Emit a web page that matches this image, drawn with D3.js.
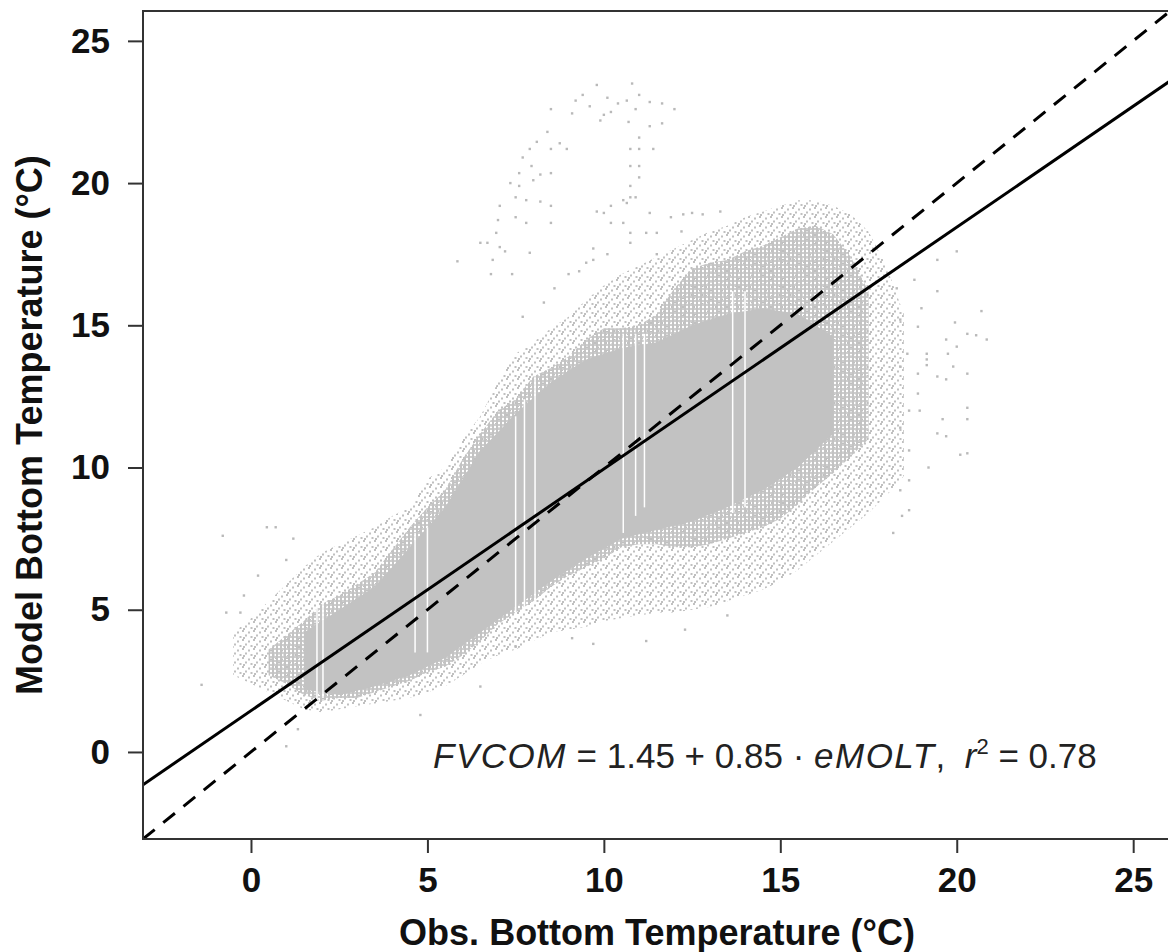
<!DOCTYPE html>
<html lang="en">

<head>
  <meta charset="utf-8">
  <title>Model vs. observed bottom temperature</title>
  <script src="https://cdnjs.cloudflare.com/ajax/libs/d3/7.8.5/d3.min.js"></script>
  <style type="text/css">
    body { margin: 0; background: #fff; }
    svg { display: block; font-family: "Liberation Sans", Arial, sans-serif; }
    .frame { fill: none; stroke: #333; stroke-width: 2; }
    .axis text { font-size: 35px; font-weight: bold; fill: #111; }
    .axis line { stroke: #333; stroke-width: 2; }
    .title { font-size: 36px; font-weight: bold; fill: #111; }
    .fit { fill: none; stroke: #000; stroke-width: 3; }
    .oneone { fill: none; stroke: #000; stroke-width: 3; stroke-dasharray: 15 11; }
    .eq { font-size: 35px; fill: #222; }
  </style>
</head>

<body>
  <script>
    var w = 1168;
    var h = 952;
    var pad = { l: 143, r: 1172, t: 11, b: 839 };

    var xTicks = [0, 5, 10, 15, 20, 25];
    var yTicks = [0, 5, 10, 15, 20, 25];

    // regression shown on the chart
    var fitIntercept = 1.45;
    var fitSlope = 0.85;
    var rSquared = 0.78;

    // outer extent of the scattered points: [obs, model low, model high]
    var sparseBand = [
      [-0.5, 2.7, 4.2], [0.0, 2.4, 4.7], [0.5, 2.1, 5.3], [1.0, 1.8, 5.9],
      [1.5, 1.5, 6.5], [2.0, 1.4, 7.0], [2.5, 1.5, 7.3], [3.0, 1.6, 7.6],
      [3.5, 1.7, 7.9], [4.0, 1.8, 8.3], [4.5, 1.9, 8.6], [5.0, 2.1, 9.6],
      [5.5, 2.3, 10.0], [6.0, 2.7, 11.0], [6.5, 3.1, 11.8], [7.0, 3.4, 13.0],
      [7.5, 3.6, 14.0], [8.0, 3.9, 14.4], [8.5, 4.2, 14.9], [9.0, 4.3, 15.3],
      [9.5, 4.4, 15.9], [10.0, 4.6, 16.4], [10.5, 4.7, 16.8], [11.0, 4.8, 17.1],
      [11.5, 4.9, 17.4], [12.0, 4.9, 17.7], [12.5, 5.0, 18.0], [13.0, 5.1, 18.3],
      [13.5, 5.3, 18.5], [14.0, 5.5, 18.8], [14.5, 5.7, 19.0], [15.0, 6.0, 19.2],
      [15.5, 6.4, 19.4], [16.0, 6.9, 19.4], [16.5, 7.4, 19.2], [17.0, 7.9, 18.9],
      [17.5, 8.4, 18.3], [18.0, 9.0, 17.1], [18.5, 9.7, 15.4]
    ];

    // densely packed columns
    var denseBand = [
      [0.5, 2.7, 3.6], [1.0, 2.4, 4.1], [1.5, 2.0, 4.6], [2.0, 1.8, 5.2],
      [2.5, 1.9, 5.5], [3.0, 1.9, 5.9], [3.5, 2.1, 6.3], [4.0, 2.3, 7.1],
      [4.5, 2.5, 7.9], [5.0, 2.8, 8.6], [5.5, 3.0, 9.2], [6.0, 3.4, 10.3],
      [6.5, 3.9, 11.2], [7.0, 4.5, 12.0], [7.5, 4.9, 12.4], [8.0, 5.3, 13.2],
      [8.5, 5.8, 13.5], [9.0, 6.2, 13.9], [9.5, 6.5, 14.5], [10.0, 6.8, 14.9],
      [10.5, 7.2, 14.9], [11.0, 7.3, 15.0], [11.5, 7.3, 15.4], [12.0, 7.2, 16.3],
      [12.5, 7.2, 17.0], [13.0, 7.3, 17.2], [13.5, 7.5, 17.3], [14.0, 7.7, 17.6],
      [14.5, 7.9, 17.8], [15.0, 8.2, 18.1], [15.5, 8.7, 18.4], [16.0, 9.3, 18.5],
      [16.5, 9.8, 18.2], [17.0, 10.4, 17.4], [17.5, 11.0, 16.2]
    ];

    // solid core around the fit
    var coreBand = [
      [1.5, 2.2, 4.2], [2.5, 2.0, 5.0], [3.5, 2.3, 5.8], [4.5, 2.7, 7.2],
      [5.5, 3.3, 8.6], [6.5, 4.2, 10.6], [7.5, 5.1, 11.9], [8.5, 6.0, 13.0],
      [9.5, 6.8, 13.8], [10.5, 7.5, 14.2], [11.5, 7.8, 14.4], [12.5, 8.1, 15.0],
      [13.5, 8.6, 15.4], [14.5, 9.2, 15.6], [15.5, 10.0, 15.4], [16.5, 11.2, 14.6]
    ];

    // empty vertical stripes in the cloud: [obs, model low, model high]
    var gapStripes = [
      [1.87, 1.8, 5.2], [2.04, 1.9, 5.2], [4.65, 3.5, 7.7], [5.0, 3.5, 7.9],
      [7.5, 4.75, 11.8], [7.75, 5.1, 12.4], [8.05, 5.2, 13.2],
      [10.55, 7.7, 14.7], [10.9, 8.3, 14.7], [11.15, 8.6, 14.7],
      [13.65, 8.4, 16.2], [14.0, 8.6, 16.2]
    ];

    // isolated points: [obs, model]
    var outliers = [
      [9.8, 23.45], [10.8, 23.5], [9.2, 22.9], [9.6, 22.7], [10.1, 23.0], [10.4, 22.8],
      [10.65, 22.9], [10.9, 22.6], [11.3, 22.85], [11.65, 22.8], [12.0, 22.6], [9.9, 22.2],
      [10.7, 22.15], [9.1, 22.45], [8.5, 22.6], [11.65, 22.1], [10.2, 22.5], [9.4, 23.1],
      [10.0, 22.4], [11.0, 23.1],
      [8.4, 21.8], [8.1, 21.45], [7.9, 21.2], [7.7, 20.9], [8.5, 21.2], [8.75, 21.4],
      [8.95, 21.2], [7.95, 20.6], [7.6, 20.35], [8.2, 20.3], [8.5, 20.35], [7.35, 20.0],
      [7.6, 19.9], [8.0, 20.1], [7.5, 19.5], [7.8, 19.4], [8.2, 19.35], [8.5, 19.2],
      [7.05, 19.2], [7.5, 18.8], [7.0, 18.7], [7.8, 18.6], [8.5, 18.6], [6.95, 18.25],
      [6.7, 17.9], [6.5, 17.9], [7.05, 17.75], [7.2, 17.6], [6.85, 17.3], [5.85, 17.25],
      [6.8, 16.8], [7.4, 16.8], [7.9, 17.55],
      [11.0, 21.6], [11.0, 21.2], [10.75, 21.2], [11.3, 22.0], [11.4, 21.2], [11.0, 20.6],
      [10.75, 20.6], [11.0, 20.2], [10.75, 19.9], [10.75, 19.5], [10.55, 19.4], [10.9, 19.5],
      [10.65, 19.3], [10.2, 19.2], [9.8, 19.0], [10.0, 18.95], [10.2, 18.6], [10.55, 18.6],
      [10.75, 18.25], [11.3, 18.95], [11.2, 18.25], [11.5, 18.25], [11.9, 18.8], [12.25, 18.9],
      [12.5, 18.95], [10.75, 17.9], [9.7, 17.7], [10.1, 17.5], [11.5, 17.5], [9.7, 17.3],
      [9.5, 17.2], [9.0, 16.8], [8.6, 16.3], [9.3, 16.9], [12.8, 18.9], [13.3, 19.0],
      [12.2, 18.3], [8.3, 15.8], [7.7, 15.3],
      [-0.8, 7.6], [0.45, 7.9], [0.7, 7.9], [1.2, 7.5], [1.0, 6.75], [-1.4, 2.36],
      [1.0, 0.2], [-0.7, 4.9], [-0.3, 4.9], [4.8, 1.3], [1.33, 0.8], [0.2, 6.2], [-0.2, 5.5],
      [9.1, 4.0], [9.7, 3.8], [7.5, 3.7], [6.5, 2.3], [12.3, 4.3], [11.2, 3.9], [13.5, 4.8],
      [19.45, 17.3], [20.0, 17.6], [19.45, 16.2], [20.7, 15.5], [20.85, 14.5], [20.55, 14.65],
      [20.3, 14.7], [19.95, 15.1], [19.7, 14.5], [20.0, 14.25], [19.15, 13.8], [19.15, 13.6],
      [19.15, 14.0], [19.75, 14.0], [19.9, 13.55], [20.3, 13.3], [19.45, 13.2], [19.7, 13.1],
      [20.3, 12.1], [20.3, 11.7], [19.6, 11.7], [19.45, 11.2], [19.7, 11.1], [20.1, 10.45],
      [20.3, 10.5], [19.2, 10.0], [18.65, 10.6], [18.4, 9.2], [18.65, 9.55], [18.2, 7.7],
      [18.65, 8.5], [18.45, 8.3], [18.95, 12.0], [18.9, 12.6], [18.65, 12.0], [18.4, 11.4],
      [18.9, 13.3], [18.4, 13.55], [18.6, 14.0], [18.9, 14.95], [18.4, 15.2], [18.8, 16.6],
      [18.3, 16.3], [19.0, 15.6]
    ];

    var xScale = d3.scaleLinear().domain([-3.06, 26.1]).range([pad.l, pad.r]);
    var yScale = d3.scaleLinear().domain([-3.06, 26.05]).range([pad.b, pad.t]);

    var svg = d3.select('body')
      .append('svg')
      .attr('width', w)
      .attr('height', h);

    var defs = svg.append('defs');

    defs.append('clipPath').attr('id', 'plotClip')
      .append('rect')
      .attr('x', pad.l).attr('y', pad.t)
      .attr('width', pad.r - pad.l).attr('height', pad.b - pad.t);

    // speckle for the loose outer points
    var halo = defs.append('pattern').attr('id', 'halo')
      .attr('patternUnits', 'userSpaceOnUse').attr('width', 11).attr('height', 9);
    [[0, 0], [6, 1.5], [3, 4.5], [8.5, 6], [1, 7]].forEach(function (p) {
      halo.append('rect').attr('x', p[0]).attr('y', p[1])
        .attr('width', 2).attr('height', 2).attr('fill', '#c0c0c0');
    });

    // vertical striation for the packed columns
    var mid = defs.append('pattern').attr('id', 'mid')
      .attr('patternUnits', 'userSpaceOnUse').attr('width', 4).attr('height', 4);
    mid.append('rect').attr('x', 0).attr('y', 0).attr('width', 2).attr('height', 4).attr('fill', '#c3c3c3');
    mid.append('rect').attr('x', 2).attr('y', 0).attr('width', 2).attr('height', 2).attr('fill', '#cdcdcd');

    var plot = svg.append('g').attr('clip-path', 'url(#plotClip)');

    var band = d3.area()
      .x(d => xScale(d[0]))
      .y0(d => yScale(d[1]))
      .y1(d => yScale(d[2]));

    plot.append('path').datum(sparseBand).attr('d', band).attr('fill', 'url(#halo)');
    plot.append('path').datum(denseBand).attr('d', band).attr('fill', 'url(#mid)');
    plot.append('path').datum(coreBand).attr('d', band).attr('fill', '#c2c2c2');

    plot.selectAll('line.gap')
      .data(gapStripes)
      .enter()
      .append('line')
      .attr('class', 'gap')
      .attr('x1', d => xScale(d[0])).attr('x2', d => xScale(d[0]))
      .attr('y1', d => yScale(d[1])).attr('y2', d => yScale(d[2]))
      .attr('stroke', '#fff')
      .attr('stroke-width', 1.5);

    plot.selectAll('rect.pt')
      .data(outliers)
      .enter()
      .append('rect')
      .attr('class', 'pt')
      .attr('x', d => xScale(d[0]) - 1.2)
      .attr('y', d => yScale(d[1]) - 1.2)
      .attr('width', 2.4)
      .attr('height', 2.4)
      .attr('fill', '#b9b9b9');

    var xd = xScale.domain();
    var line = d3.line().x(d => xScale(d[0])).y(d => yScale(d[1]));

    plot.append('path')
      .datum([[xd[0], xd[0]], [xd[1], xd[1]]])
      .attr('class', 'oneone')
      .attr('d', line);

    plot.append('path')
      .datum([[xd[0], fitIntercept + fitSlope * xd[0]], [xd[1], fitIntercept + fitSlope * xd[1]]])
      .attr('class', 'fit')
      .attr('d', line);

    // frame
    svg.append('rect')
      .attr('class', 'frame')
      .attr('x', pad.l).attr('y', pad.t)
      .attr('width', pad.r - pad.l).attr('height', pad.b - pad.t);

    var xAxis = svg.append('g')
      .attr('class', 'axis')
      .attr('transform', 'translate(0,' + pad.b + ')')
      .call(d3.axisBottom(xScale).tickValues(xTicks).tickSize(14).tickPadding(14));
    xAxis.select('.domain').remove();

    var yAxis = svg.append('g')
      .attr('class', 'axis')
      .attr('transform', 'translate(' + pad.l + ',0)')
      .call(d3.axisLeft(yScale).tickValues(yTicks).tickSize(15).tickPadding(18));
    yAxis.select('.domain').remove();

    svg.append('text')
      .attr('class', 'title')
      .attr('x', 657)
      .attr('y', 945)
      .attr('text-anchor', 'middle')
      .text('Obs. Bottom Temperature (°C)');

    svg.append('text')
      .attr('class', 'title')
      .attr('transform', 'translate(42,' + ((pad.t + pad.b) / 2) + ') rotate(-90)')
      .attr('text-anchor', 'middle')
      .text('Model Bottom Temperature (°C)');

    // equation annotation
    var eq = svg.append('text')
      .attr('class', 'eq')
      .attr('x', 433)
      .attr('y', 768);
    eq.append('tspan').attr('font-style', 'italic').attr('letter-spacing', 1.5).text('FVCOM');
    eq.append('tspan').text(' = ' + fitIntercept.toFixed(2) + ' + ' + fitSlope.toFixed(2) + ' · ');
    eq.append('tspan').attr('font-style', 'italic').attr('letter-spacing', 1.5).text('eMOLT');
    eq.append('tspan').text(',\u00a0\u00a0');
    eq.append('tspan').attr('font-style', 'italic').text('r');
    eq.append('tspan').attr('font-size', 22).attr('dy', -14).text('2');
    eq.append('tspan').attr('dy', 14).text(' = ' + rSquared.toFixed(2));
  </script>
</body>

</html>
